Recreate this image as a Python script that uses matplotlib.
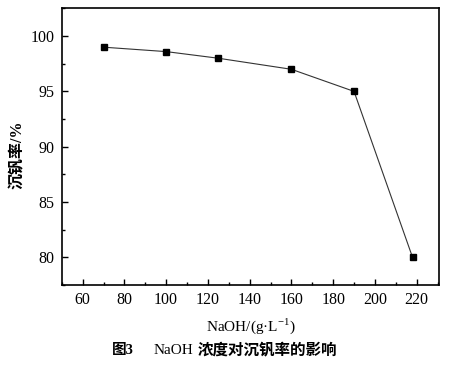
import matplotlib
matplotlib.use('Agg')
from matplotlib import pyplot as plt
from matplotlib.ticker import MultipleLocator

naoh = [70, 100, 125, 160, 190, 218]
rate = [99.0, 98.6, 98.0, 97.0, 95.0, 80.0]

x_ticks = [60, 80, 100, 120, 140, 160, 180, 200, 220]
y_ticks = [80, 85, 90, 95, 100]

FAMILY = ['Liberation Serif', 'Noto Sans CJK SC']

plt.rcParams['font.family'] = FAMILY
plt.rcParams['mathtext.fontset'] = 'custom'
plt.rcParams['mathtext.rm'] = 'Liberation Serif'

fig = plt.figure(figsize=(4.54, 3.69), dpi=100)
ax = fig.add_axes([0.136, 0.228, 0.831, 0.749])

ax.plot(naoh, rate, color='#333333', linewidth=0.8, marker='s',
        markersize=5, markerfacecolor='black', markeredgecolor='black')

ax.set_xlim(50, 230.7)
ax.set_ylim(77.5, 102.5)
ax.set_xticks(x_ticks)
ax.set_yticks(y_ticks)
ax.xaxis.set_minor_locator(MultipleLocator(10))
ax.yaxis.set_minor_locator(MultipleLocator(2.5))
ax.tick_params(which='both', direction='in', top=False, right=False,
               labelsize=11.5, width=1.0, pad=5)
ax.tick_params(which='major', length=4)
ax.tick_params(which='minor', length=2)
for s in ax.spines.values():
    s.set_linewidth(1.2)

ax.set_xlabel('NaOH/(g·L$^{-1}$)', fontsize=11, labelpad=6)
fig.text(0.04, 0.58, '沉钒率/%', rotation=90, fontsize=11.5,
         fontweight='bold', ha='center', va='center', family=FAMILY)

# caption: bold CJK parts, regular serif "NaOH"
t1 = fig.text(0.247, 0.051, '图3', fontsize=10.5, fontweight='bold',
              ha='left', va='center', family=FAMILY)
t2 = ax.annotate('NaOH', xy=(1, 0.5), xycoords=t1, xytext=(14, 0),
                 textcoords='offset points', fontsize=11, ha='left',
                 va='center', family=FAMILY, annotation_clip=False)
ax.annotate('浓度对沉钒率的影响', xy=(1, 0.5), xycoords=t2, xytext=(3, 0),
            textcoords='offset points', fontsize=11.2, fontweight='bold',
            ha='left', va='center', family=FAMILY, annotation_clip=False)

fig.savefig('out.png', dpi=100)
